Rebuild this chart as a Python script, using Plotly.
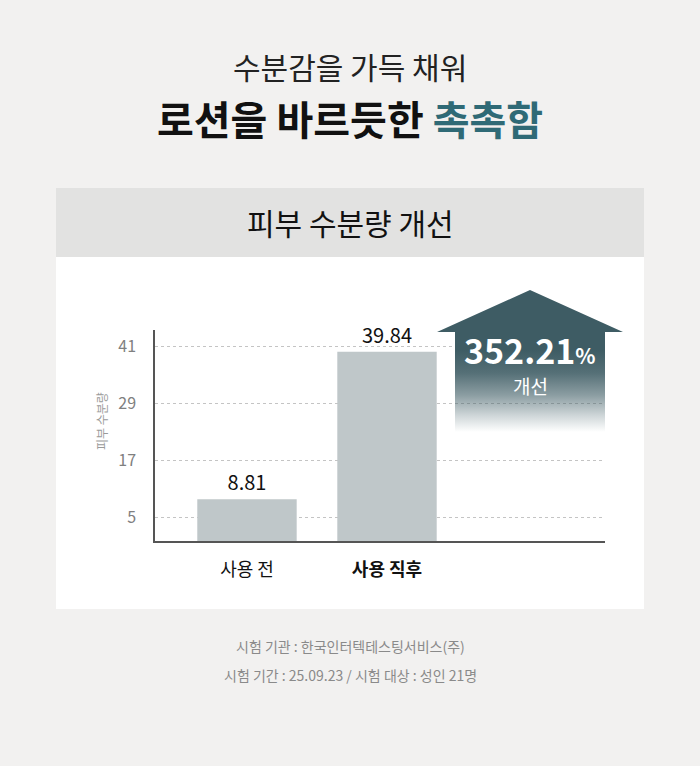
import plotly.graph_objects as go

# ---------------- data ----------------
categories = ["사용 전", "사용 직후"]
category_labels = ["사용 전", "<b>사용 직후</b>"]
values = [8.81, 39.84]
value_labels = ["8.81", "39.84"]
y_tick_values = [5, 17, 29, 41]
improvement_text = "352.21"
y_axis_title = "피부 수분량"

title_line1 = "수분감을 가득 채워"
title_line2_a = "로션을 바르듯한 "
title_line2_b = "촉촉함"
panel_title = "피부 수분량 개선"
footer_line1 = "시험 기관 : 한국인터텍테스팅서비스(주)"
footer_line2 = "시험 기간 : 25.09.23 / 시험 대상 : 성인 21명"

# ---------------- styling ----------------
W, H = 700, 766
FONT = "Noto Sans CJK KR"
BG = "#f2f1f0"
HEADER_BG = "#e2e2e1"
BAR_COLOR = "#bfc7c9"
ARROW_RGB = "62,92,100"
TEAL = "#2f6a76"


def px(xp):
    return xp / W


def py(yp):
    return 1 - yp / H


fig = go.Figure()

# bars on the main axes
fig.add_trace(go.Bar(
    x=[0, 1], y=values, width=0.71,
    marker=dict(color=BAR_COLOR, line=dict(width=0)),
    text=value_labels, textposition="outside",
    textfont=dict(family=FONT, size=20, color="#111"),
    cliponaxis=False, hoverinfo="skip", showlegend=False,
))

# decorative upward arrow (pixel overlay axes x2/y2)
ax = [437, 530, 623, 605, 605, 455, 455, 437]
ay_px = [332, 290, 332, 332, 432, 432, 332, 332]
ay = [H - v for v in ay_px]
fig.add_trace(go.Scatter(
    x=ax, y=ay, xaxis="x2", yaxis="y2", mode="lines",
    line=dict(width=0), fill="toself",
    fillgradient=dict(
        type="vertical",
        start=H - 432, stop=H - 350,
        colorscale=[
            [0.0, f"rgba({ARROW_RGB},0)"],
            [0.2, f"rgba({ARROW_RGB},0.25)"],
            [0.45, f"rgba({ARROW_RGB},0.6)"],
            [0.72, f"rgba({ARROW_RGB},0.88)"],
            [1.0, f"rgba({ARROW_RGB},1)"],
        ],
    ),
    hoverinfo="skip", showlegend=False,
))

shapes = [
    dict(type="rect", xref="paper", yref="paper", x0=px(56), x1=px(644),
         y0=py(257), y1=py(188), fillcolor=HEADER_BG, line=dict(width=0), layer="below"),
    dict(type="rect", xref="paper", yref="paper", x0=px(56), x1=px(644),
         y0=py(609), y1=py(257), fillcolor="#ffffff", line=dict(width=0), layer="below"),
]

annotations = [
    dict(text=title_line1, x=0.5, y=py(66), xref="paper", yref="paper", showarrow=False,
         font=dict(family=FONT, size=30, color="#222"), xanchor="center", yanchor="middle"),
    dict(text=f"<b>{title_line2_a}<span style='color:{TEAL}'>{title_line2_b}</span></b>",
         x=0.5, y=py(118), xref="paper", yref="paper", showarrow=False,
         font=dict(family=FONT, size=40, color="#111"), xanchor="center", yanchor="middle"),
    dict(text=panel_title, x=0.5, y=py(222), xref="paper", yref="paper", showarrow=False,
         font=dict(family=FONT, size=30, color="#111"), xanchor="center", yanchor="middle"),
    dict(text=f"<b>{improvement_text}<span style='font-size:21px'>%</span></b>",
         x=px(530), y=py(350), xref="paper", yref="paper", showarrow=False,
         font=dict(family=FONT, size=34, color="#ffffff"), xanchor="center", yanchor="middle"),
    dict(text="개선", x=px(530), y=py(385), xref="paper", yref="paper", showarrow=False,
         font=dict(family=FONT, size=19, color="#ffffff"), xanchor="center", yanchor="middle"),
    dict(text=y_axis_title, x=px(101), y=py(421), xref="paper", yref="paper", showarrow=False,
         textangle=-90, font=dict(family=FONT, size=12, color="#9a9a9a"),
         xanchor="center", yanchor="middle"),
    dict(text=footer_line1, x=0.5, y=py(646), xref="paper", yref="paper", showarrow=False,
         font=dict(family=FONT, size=14, color="#8a8a8a"), xanchor="center", yanchor="middle"),
    dict(text=footer_line2, x=0.5, y=py(675), xref="paper", yref="paper", showarrow=False,
         font=dict(family=FONT, size=14, color="#8a8a8a"), xanchor="center", yanchor="middle"),
]

fig.update_layout(
    width=W, height=H,
    margin=dict(l=0, r=0, t=0, b=0),
    paper_bgcolor=BG, plot_bgcolor="rgba(0,0,0,0)",
    shapes=shapes, annotations=annotations,
    font=dict(family=FONT),
    xaxis=dict(
        domain=[px(155), px(605)], range=[-0.657, 2.557],
        tickvals=[0, 1], ticktext=category_labels,
        tickfont=dict(family=FONT, size=18, color="#111"),
        showgrid=False, zeroline=False, showline=True, linecolor="#555", linewidth=1.5,
        ticks="", ticklabelstandoff=12, fixedrange=True,
    ),
    yaxis=dict(
        domain=[py(541), py(330)], range=[0, 44.4],
        tickvals=y_tick_values,
        tickfont=dict(family=FONT, size=16, color="#808080"),
        showgrid=True, gridcolor="#c4c4c4", griddash="3px,3px", gridwidth=1,
        zeroline=False, showline=True, linecolor="#555", linewidth=1.5,
        ticks="", ticklabelstandoff=14, fixedrange=True,
    ),
    xaxis2=dict(domain=[0, 1], range=[0, W], visible=False, anchor="y2", fixedrange=True),
    yaxis2=dict(domain=[0, 1], range=[0, H], visible=False, anchor="x2", fixedrange=True),
)

fig.write_html(
    "out.html",
    config={"displayModeBar": False},
    post_script="document.body.style.margin='0';document.body.style.background='#f2f1f0';",
)
